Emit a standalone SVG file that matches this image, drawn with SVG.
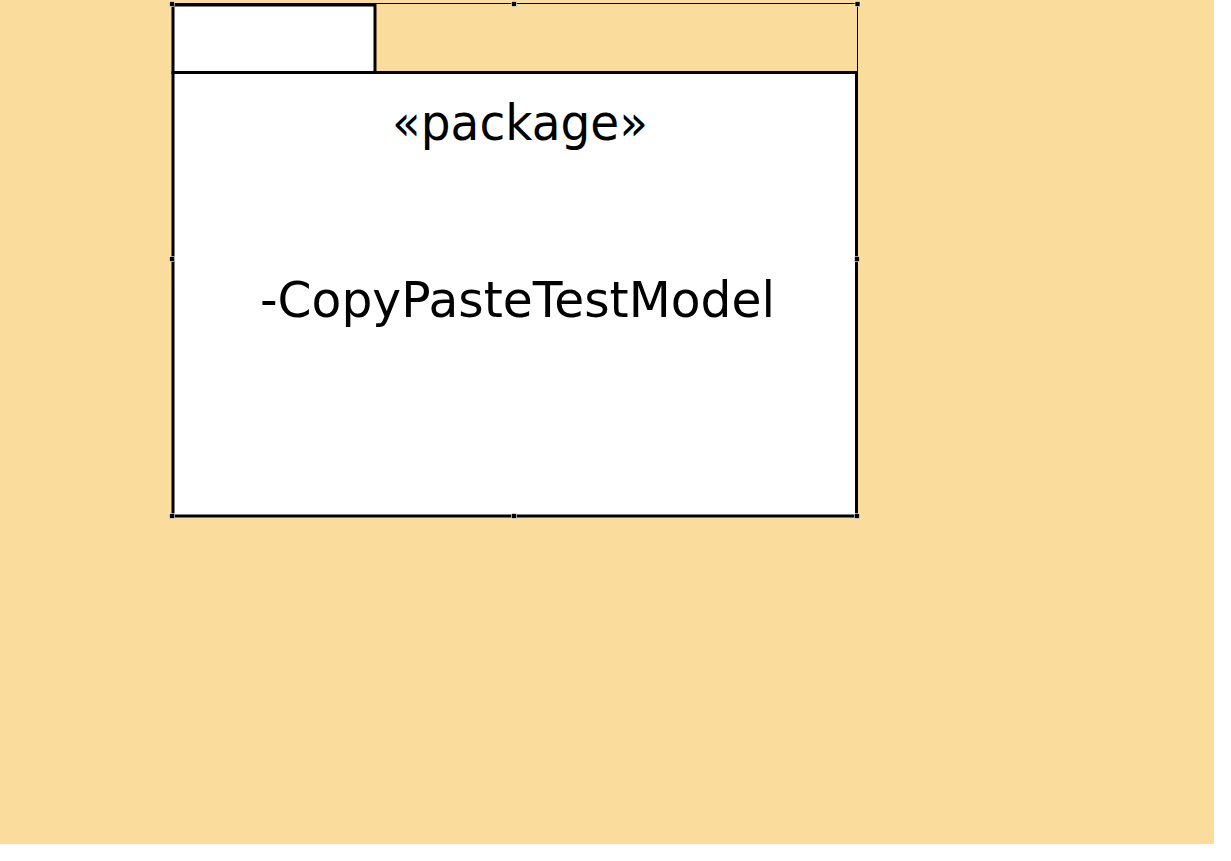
<svg xmlns="http://www.w3.org/2000/svg" width="1231" height="861" viewBox="0 0 1231 861">
<style>
.bg{fill:#FADC9C}
.frame{fill:#ffffff;stroke:#000;stroke-width:3}
.sel{fill:none;stroke:#000;stroke-width:1}
.h{fill:#000;stroke:#fff;stroke-width:0.6}
.t{font-family:"DejaVu Sans",Verdana,sans-serif;fill:#000;text-anchor:middle}
</style>
<rect x="0" y="0" width="1231" height="861" fill="#ffffff"/>
<rect class="bg" x="0" y="0" width="1214" height="844"/>
<g id="package-CopyPasteTestModel">
<line class="sel" x1="172" y1="3.5" x2="857" y2="3.5"/>
<line class="sel" x1="857.5" y1="3.5" x2="857.5" y2="72"/>
<rect class="frame" x="173" y="5" width="202" height="67.5"/>
<rect class="frame" x="173" y="72.5" width="683.5" height="443.5"/>
<text class="t" x="520" y="140" font-size="49" textLength="256" lengthAdjust="spacingAndGlyphs">«package»</text>
<text class="t" x="517.5" y="317" font-size="50" textLength="515" lengthAdjust="spacingAndGlyphs">-CopyPasteTestModel</text>
<rect class="h" x="169.5" y="1.5" width="5" height="5"/>
<rect class="h" x="511.5" y="1.5" width="5" height="5"/>
<rect class="h" x="855" y="1.5" width="5" height="5"/>
<rect class="h" x="169.5" y="256.5" width="5" height="5"/>
<rect class="h" x="854.5" y="256.5" width="5" height="5"/>
<rect class="h" x="169.5" y="513.5" width="5" height="5"/>
<rect class="h" x="511.5" y="513.5" width="5" height="5"/>
<rect class="h" x="854.5" y="513.5" width="5" height="5"/>
</g>
<g id="connectors"/>
</svg>
